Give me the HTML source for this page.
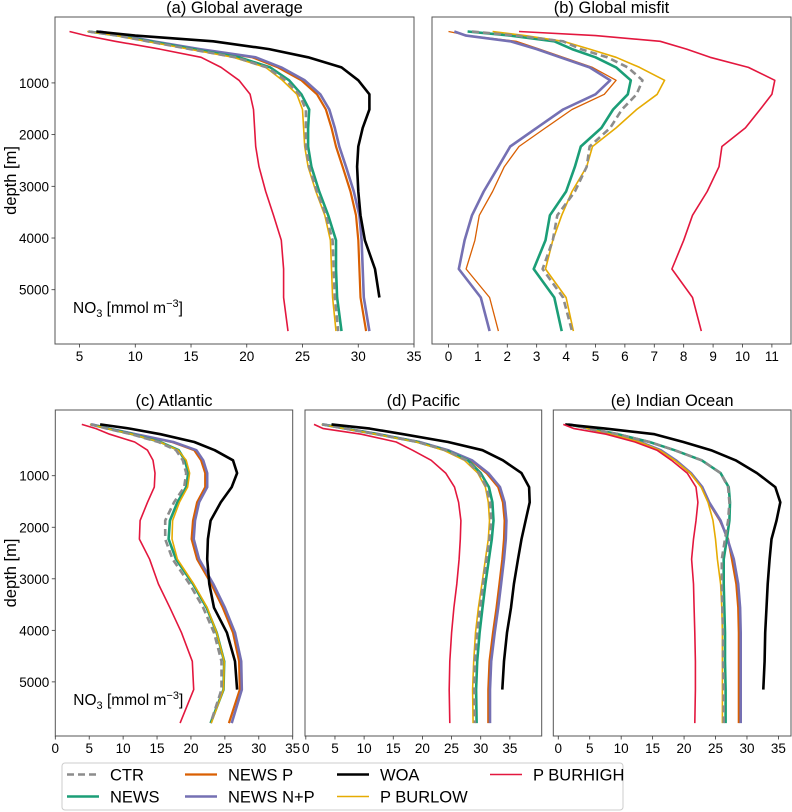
<!DOCTYPE html>
<html><head><meta charset="utf-8"><style>
html,body{margin:0;padding:0;background:#fff;}
svg{display:block;font-family:"Liberation Sans",sans-serif;}
</style></head><body>
<svg id="chart" width="792" height="812" viewBox="0 0 792 812" xmlns="http://www.w3.org/2000/svg"></svg>
<script>
const depths = [5,85,195,345,505,700,950,1220,1515,1870,2230,2620,3100,3560,4045,4600,5150,5800];
const seriesNames = ["NEWS P","NEWS N+P","NEWS","P BURLOW","CTR","WOA","P BURHIGH"];
const panelTitles = ["(a) Global average","(b) Global misfit","(c) Atlantic","(d) Pacific","(e) Indian Ocean"];
const depthTicks = [1000,2000,3000,4000,5000];
const ticksTop = [5,10,15,20,25,30,35];
const ticksMisfit = [0,1,2,3,4,5,6,7,8,9,10,11];
const ticksBottom = [0,5,10,15,20,25,30,35];

// (a) Global average
const aCTR = [5.8,8.4,11.1,14.9,19.0,21.8,23.5,24.7,25.3,25.3,25.3,25.6,26.3,27.1,27.7,27.8,27.9,28.2];
const aNEWS = [5.8,8.5,11.3,15.2,19.3,22.1,23.8,24.9,25.6,25.5,25.5,25.8,26.5,27.3,28.0,28.0,28.1,28.5];
const aNEWSP = [6.6,8.9,11.5,15.6,20.5,22.8,24.9,26.3,27.1,27.6,28.0,28.6,29.3,29.8,30.0,30.1,30.2,30.7];
const aNEWSNP = [6.8,9.0,11.6,15.8,20.8,23.1,25.2,26.6,27.4,27.9,28.3,28.9,29.6,30.1,30.3,30.4,30.5,31.0];
const aWOA = [6.5,10,17,22,25.5,28.5,30.0,31.0,31.0,30.4,30.0,29.9,30.0,30.2,30.6,31.5,31.9];
const aBURLOW = [5.7,8.3,11.0,14.8,18.8,21.7,23.2,24.5,25.0,25.1,25.2,25.5,26.2,27.0,27.5,27.6,27.7,28.0];
const aBURHIGH = [4.1,5.6,8.2,12.2,15.9,17.7,19.3,20.3,20.6,20.7,20.8,21.1,21.7,22.4,23.1,23.3,23.3,23.7];
// (b) Global misfit
const bCTR = [0.8,2.3,3.9,4.5,5.4,6.1,6.6,6.4,5.9,5.5,4.8,4.7,4.3,3.7,3.55,3.2,3.9,4.2];
const bNEWS = [0.65,2.1,3.6,4.2,5.0,5.7,6.2,6.1,5.6,5.2,4.5,4.3,4.0,3.45,3.3,2.9,3.6,3.85];
const bNEWSP = [0.0,0.7,2.3,3.1,3.9,4.9,5.7,5.3,4.2,3.3,2.4,1.9,1.5,1.05,0.9,0.6,1.4,1.7];
const bNEWSNP = [0.2,0.6,2.1,3.0,3.8,4.8,5.5,5.0,3.9,3.0,2.1,1.7,1.2,0.8,0.55,0.35,1.1,1.4];
const bWOA = [];
const bBURLOW = [1.5,2.6,3.9,4.8,5.7,6.5,7.35,7.1,6.4,5.7,4.9,4.7,4.2,3.85,3.55,3.3,4.0,4.25];
const bBURHIGH = [2.4,5.0,7.2,8.1,8.9,10.2,11.1,11.0,10.6,10.1,9.3,9.2,8.8,8.3,8.0,7.6,8.3,8.6];
// (c) Atlantic
const cCTR = [5.2,7.6,11.2,15.2,17.8,18.8,19.3,19.0,17.5,16.2,16.2,17.3,19.8,21.8,23.4,24.5,24.5,22.9];
const cNEWS = [5.2,7.8,11.4,15.5,18.2,19.1,19.6,19.3,18.0,16.9,16.7,17.8,20.3,22.3,23.8,24.9,24.8,22.9];
const cNEWSP = [5.4,8.0,11.8,17.2,20.5,21.5,22.1,22.1,20.9,20.3,20.1,20.9,23.0,24.7,26.2,27.1,27.2,25.6];
const cNEWSNP = [5.4,8.0,11.8,17.4,20.8,21.8,22.4,22.4,21.2,20.6,20.4,21.2,23.3,25.0,26.5,27.4,27.5,26.0];
const cWOA = [6.6,11,15.5,20.5,23.5,26.2,26.8,26.0,24.4,22.9,22.5,22.4,22.7,23.4,25.3,26.5,26.8];
const cBURLOW = [5.1,7.7,11.3,15.4,18.1,19.3,19.8,19.5,18.3,17.3,17.2,18.0,20.4,22.4,23.8,24.9,24.8,23.0];
const cBURHIGH = [3.9,6.0,8.0,11.7,13.6,14.4,14.7,14.6,13.6,12.5,12.4,13.9,15.2,16.9,18.6,20.2,20.4,18.4];
// (d) Pacific
const dCTR = [2.8,6.8,12.2,19.2,24.0,27.6,29.7,31.0,31.6,31.8,31.5,31.0,30.4,29.9,29.4,29.0,28.9,29.0];
const dNEWS = [2.8,6.8,12.2,19.2,24.0,27.8,30.0,31.4,32.0,32.2,31.9,31.4,30.8,30.3,29.8,29.4,29.2,29.3];
const dNEWSP = [3.0,7.0,12.5,19.5,24.2,28.3,31.0,33.0,33.8,34.1,34.0,33.7,33.2,32.7,32.1,31.5,31.3,31.3];
const dNEWSNP = [3.0,7.0,12.5,19.5,24.4,28.5,31.3,33.3,34.1,34.4,34.3,34.0,33.5,33.0,32.4,31.8,31.6,31.6];
const dWOA = [4.4,11,16.7,24.4,30.3,33.8,37.0,38.3,38.4,37.7,37.0,36.4,35.7,35.2,34.5,34.0,33.7];
const dBURLOW = [2.7,6.6,12.0,19.0,23.6,27.2,29.5,30.8,31.3,31.5,31.3,30.8,30.2,29.6,29.1,28.8,28.6,28.7];
const dBURHIGH = [1.4,3.0,9.5,15.5,18.3,21.5,24.0,25.5,26.2,26.6,26.5,26.3,25.9,25.4,25.0,24.7,24.6,24.7];
// (e) Indian Ocean
const eCTR = [1.6,5.0,9.5,14.5,18.5,22.8,25.8,27.0,27.2,27.0,26.5,26.0,26.0,26.1,26.2,26.2,26.3,26.3];
const eNEWS = [1.6,5.0,9.5,14.5,18.5,22.8,25.8,27.1,27.3,27.2,26.8,26.3,26.3,26.4,26.5,26.5,26.6,26.6];
const eNEWSP = [1.9,4.8,8.5,13.0,16.2,18.6,21.0,22.8,23.9,25.7,27.0,27.6,28.3,28.6,28.7,28.7,28.7,28.7];
const eNEWSNP = [1.9,4.8,8.5,13.0,16.3,18.7,21.1,22.9,24.0,25.8,26.9,27.9,28.6,28.9,29.0,29.0,29.0,29.0];
const eWOA = [1.1,7.5,15.3,19.9,24.3,28.2,31.6,34.5,35.3,34.7,33.9,33.6,33.3,33.1,32.9,32.8,32.6];
const eBURLOW = [1.8,4.7,8.4,12.9,16.1,18.5,21.0,22.7,23.8,24.6,25.0,25.3,25.8,26.0,26.1,26.1,26.1,26.1];
const eBURHIGH = [0.8,2.5,7.6,12.2,15.7,18.0,20.5,21.9,22.2,21.9,21.5,21.2,21.5,21.6,21.7,21.8,21.8,21.7];

const NS = "http://www.w3.org/2000/svg";
const svg = document.getElementById("chart");
function mk(tag, attrs, parent){
  const e = document.createElementNS(NS, tag);
  for (const k in attrs) e.setAttribute(k, attrs[k]);
  (parent||svg).appendChild(e);
  return e;
}
const styles = {
  "NEWS P":{c:"#d95f02",w:2.2,d:""},
  "NEWS N+P":{c:"#7570b3",w:2.6,d:""},
  "NEWS":{c:"#1b9e77",w:2.6,d:""},
  "P BURLOW":{c:"#e6ab02",w:1.6,d:""},
  "CTR":{c:"#8c8c8c",w:2.6,d:"7,4"},
  "WOA":{c:"#000000",w:2.6,d:""},
  "P BURHIGH":{c:"#e3173e",w:1.6,d:""}
};
const panels = [
  {id:"a",x0:55,x1:414,y0:17,y1:344,xmin:2.8,xmax:35,ticks:ticksTop,ylab:true,data:[aNEWSP,aNEWSNP,aNEWS,aBURLOW,aCTR,aWOA,aBURHIGH]},
  {id:"b",x0:432,x1:791,y0:17,y1:344,xmin:-0.56,xmax:11.65,ticks:ticksMisfit,ylab:false,thinP:true,data:[bNEWSP,bNEWSNP,bNEWS,bBURLOW,bCTR,bWOA,bBURHIGH]},
  {id:"c",x0:55.3,x1:292.7,y0:410,y1:736,xmin:0,xmax:35,ticks:ticksBottom,ylab:true,data:[cNEWSP,cNEWSNP,cNEWS,cBURLOW,cCTR,cWOA,cBURHIGH]},
  {id:"d",x0:305,x1:541.7,y0:410,y1:736,xmin:-0.14,xmax:40.46,ticks:ticksBottom,ylab:false,data:[dNEWSP,dNEWSNP,dNEWS,dBURLOW,dCTR,dWOA,dBURHIGH]},
  {id:"e",x0:553.3,x1:791,y0:410,y1:736,xmin:-0.79,xmax:37.0,ticks:ticksBottom,ylab:false,data:[eNEWSP,eNEWSNP,eNEWS,eBURLOW,eCTR,eWOA,eBURHIGH]}
];
const dMin = -275, dMax = 6050;
panels.forEach((p, pi) => {
  const g = mk("g", {});
  
  
  const sx = v => p.x0 + (v - p.xmin) / (p.xmax - p.xmin) * (p.x1 - p.x0);
  const sy = d => p.y0 + (d - dMin) / (dMax - dMin) * (p.y1 - p.y0);
  const t = mk("text", {x:(p.x0+p.x1)/2, y:p.y0-4, "text-anchor":"middle", "font-size":"16.5", fill:"#000"}, g);
  t.textContent = panelTitles[pi];
  
  
  p.data.forEach((vals, si) => {
    if (!vals.length) return;
    const name = seriesNames[si];
    const st = styles[name];
    const pts = vals.map((v, i) => sx(v).toFixed(1) + "," + sy(depths[i]).toFixed(1)).join(" ");
    let w = st.w;
    if (p.thinP && name === "NEWS P") w = 1.3;
    const pl = mk("polyline", {points:pts, fill:"none", stroke:st.c, "stroke-width":w, "stroke-dasharray":st.d, "stroke-linejoin":"round"}, g);
    
    
  });
  const fr = mk("rect", {x:p.x0, y:p.y0, width:p.x1-p.x0, height:p.y1-p.y0, fill:"none", stroke:"#555", "stroke-width":"1"}, g);
  
  
  p.ticks.forEach(tv => {
    const x = sx(tv);
    mk("line", {x1:x, x2:x, y1:p.y1, y2:p.y1+3.5, stroke:"#333", "stroke-width":"0.8"}, g);
    const tl = mk("text", {x:x, y:p.y1+17, "text-anchor":"middle", "font-size":"13.5", fill:"#000"}, g);
    tl.textContent = tv;
    
    
  });
  if (p.ylab) {
    depthTicks.forEach(dv => {
      const y = sy(dv);
      mk("line", {x1:p.x0-3.5, x2:p.x0, y1:y, y2:y, stroke:"#333", "stroke-width":"0.8"}, g);
      const yl = mk("text", {x:p.x0-6, y:y+5, "text-anchor":"end", "font-size":"13.5", fill:"#000"}, g);
      yl.textContent = dv;
      
      
    });
    const cy = (p.y0+p.y1)/2;
    const yt = mk("text", {x:0, y:0, transform:"translate(16," + cy + ") rotate(-90)", "text-anchor":"middle", "font-size":"16.5", fill:"#000"}, g);
    yt.textContent = "depth [m]";
    
    
    const ut = mk("text", {x:p.x0+18, y:sy(5450), "font-size":"15.5", fill:"#000"}, g);
    ut.innerHTML = 'NO<tspan font-size="11" dy="4">3</tspan><tspan dy="-4"> [mmol m</tspan><tspan font-size="11" dy="-6">−3</tspan><tspan dy="6">]</tspan>';
    
    
  }
});
const lg = mk("g", {});


const lb = mk("rect", {x:62, y:763, width:561, height:47, rx:3, fill:"#fff", stroke:"#ccc", "stroke-width":"1"}, lg);


const legendOrder = ["CTR","NEWS","NEWS P","NEWS N+P","WOA","P BURLOW","P BURHIGH"];
const colX = [67, 185, 337, 490];
legendOrder.forEach((name, i) => {
  const col = Math.floor(i/2), row = i%2;
  const st = styles[name];
  const x = colX[col], y = row ? 796.5 : 774.5;
  const e = mk("g", {}, lg);
  
  
  mk("line", {x1:x, x2:x+32, y1:y, y2:y, stroke:st.c, "stroke-width":st.w, "stroke-dasharray":st.d}, e);
  const tx = mk("text", {x:x+43, y:y+6, "font-size":"16.5", fill:"#000"}, e);
  tx.textContent = name;
});
</script>
</body></html>
